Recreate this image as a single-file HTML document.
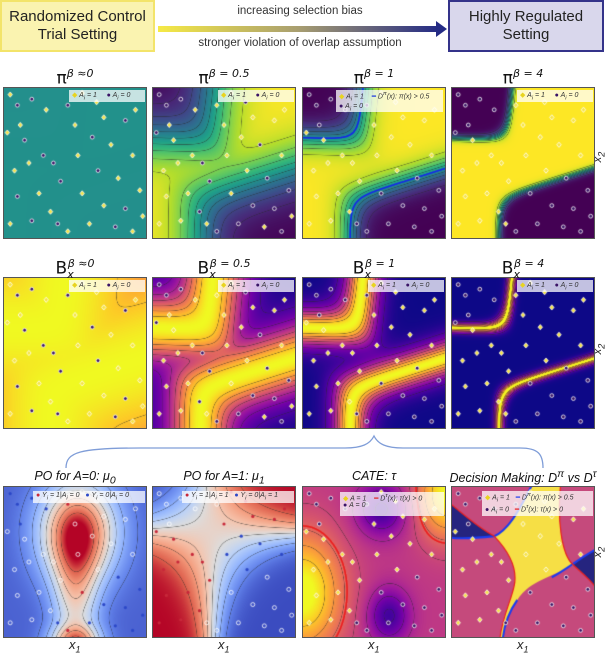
<!DOCTYPE html>
<html><head><meta charset="utf-8">
<style>
html,body{margin:0;padding:0;background:#fff;}
body{width:606px;height:652px;position:relative;overflow:hidden;font-family:"Liberation Sans","DejaVu Sans",sans-serif;}
.abs{position:absolute;}
.box{position:absolute;box-sizing:border-box;display:flex;align-items:center;justify-content:center;text-align:center;font-size:15px;line-height:18px;color:#222;}
.title{position:absolute;text-align:center;color:#111;white-space:nowrap;}
.t1{font-size:17px;font-family:"DejaVu Sans",sans-serif;}
.t1 sup{font-size:11px;font-style:italic;}
.t3{font-size:12.5px;font-style:italic;}
canvas{position:absolute;}
.legend{position:absolute;background:rgba(255,255,255,0.75);font-size:7px;color:#333;font-style:italic;padding:1px 3px;box-sizing:border-box;white-space:nowrap;}
.lab{position:absolute;font-style:italic;font-size:13px;color:#222;}
.panelborder{position:absolute;border:1px solid #555;box-sizing:border-box;pointer-events:none;}
</style></head>
<body>
<div class="box" style="left:0;top:0;width:155px;height:52px;background:#faf3b0;border:2px solid #f3e46a;">Randomized Control<br>Trial Setting</div>
<div class="box" style="left:448px;top:0;width:156px;height:52px;background:#d9d7ec;border:2px solid #34338a;">Highly Regulated<br>Setting</div>
<svg class="abs" style="left:155px;top:20px" width="295" height="18">
<defs><linearGradient id="ag" x1="0" x2="1"><stop offset="0" stop-color="#f6ea45"/><stop offset="0.5" stop-color="#a89e70"/><stop offset="1" stop-color="#242b85"/></linearGradient></defs>
<rect x="3" y="6" width="280" height="6" fill="url(#ag)"/><polygon points="281,1 292,9 281,17" fill="#242b85"/></svg>
<div class="abs" style="left:155px;width:290px;top:5px;text-align:center;font-size:11.5px;color:#333">increasing selection bias</div>
<div class="abs" style="left:155px;width:290px;top:37px;text-align:center;font-size:11.5px;color:#333">stronger violation of overlap assumption</div>

<svg class="abs" style="left:0;top:430px" width="606" height="40">
<path d="M66,38 C66,22 80,18 140,18 L345,18 C362,18 370,14 374,6 C378,14 386,18 403,18 L520,18 C538,18 543,24 543,38" fill="none" stroke="#7f9dd8" stroke-width="1.3"/></svg>

<div id="root"></div>

<div class="lab" style="left:594px;top:150px;transform:rotate(-90deg);font-size:11px">x<sub>2</sub></div>
<div class="lab" style="left:594px;top:342px;transform:rotate(-90deg);font-size:11px">x<sub>2</sub></div>
<div class="lab" style="left:594px;top:545px;transform:rotate(-90deg);font-size:11px">x<sub>2</sub></div>

<script>
// ---- data ----
const ptU=[0.05,0.1,0.12,0.03,0.2,0.3,0.45,0.55,0.7,0.85,0.92,0.62,0.75,0.9,0.28,0.18,0.08,0.35,0.52,0.66,0.8,0.95,0.1,0.25,0.4,0.55,0.7,0.85,0.97,0.05,0.2,0.33,0.38,0.45,0.6,0.78,0.9,0.5,0.15,0.65];
const ptV=[0.05,0.12,0.25,0.3,0.08,0.15,0.12,0.04,0.2,0.22,0.15,0.33,0.38,0.45,0.45,0.5,0.55,0.5,0.45,0.55,0.6,0.68,0.72,0.7,0.62,0.7,0.78,0.8,0.85,0.9,0.88,0.82,0.9,0.95,0.9,0.92,0.95,0.25,0.35,0.1];
const treatB0=[1,0,1,1,0,1,0,1,1,0,1,0,1,1,0,1,1,0,1,0,1,1,0,1,0,1,1,0,1,1,0,1,0,1,1,0,1,1,0,1];
const treatB05=[0,0,1,0,0,1,1,1,1,1,1,1,0,1,1,1,1,0,1,1,0,0,1,1,0,1,0,0,1,1,1,0,1,0,0,1,0,1,1,0];
const treatB1=[0,0,0,1,0,0,0,1,1,1,1,1,1,1,1,1,1,1,1,1,0,0,1,1,1,0,0,0,0,1,1,1,0,0,0,0,0,1,1,1];
const treatB4=[0,0,0,0,0,0,1,1,1,1,1,1,1,1,1,1,1,1,1,1,0,0,1,1,1,0,0,0,0,1,1,1,1,0,0,0,0,1,1,1];
const betas=[0.02,0.5,1,4];
const betaLabels=["≈0","= 0.5","= 1","= 4"];

// ---- colormaps ----
const VIR=[[68,1,84],[72,40,120],[62,74,137],[49,104,142],[38,130,142],[31,158,137],[53,183,121],[109,205,89],[180,222,44],[253,231,37]];
const PLA=[[13,8,135],[70,3,159],[114,1,168],[156,23,158],[189,55,134],[216,87,107],[237,121,83],[251,159,58],[253,202,38],[240,249,33]];
const CW=[[59,76,192],[98,130,234],[141,176,254],[184,208,249],[221,221,221],[245,196,173],[244,154,123],[222,96,77],[180,4,38]];
function cmap(s,t){t=Math.max(0,Math.min(1,t));const x=t*(s.length-1),i=Math.min(Math.floor(x),s.length-2),f=x-i;return [0,1,2].map(k=>s[i][k]*(1-f)+s[i+1][k]*f);}

// ---- fields ----
function smin(a,b,t){t=t||0.06;return -t*Math.log(Math.exp(-a/t)+Math.exp(-b/t));}
function smax(a,b,t){t=t||0.05;return t*Math.log(Math.exp(a/t)+Math.exp(b/t));}
function baseM(u,v){const p1=smin(0.42-u-0.1*v,0.33-v+0.03*u);const p2=smin(u-0.33,v-0.53-0.3*(1-u));return smax(p1,p2);}
function logit(u,v,b){return -b*20*baseM(u,v);}
function sig(x){return 1/(1+Math.exp(-x));}
function g(u,v,cu,cv,su,sv){return Math.exp(-((u-cu)*(u-cu)/su+(v-cv)*(v-cv)/sv));}
function mu0(u,v){return Math.min(1,0.05+0.85*g(u,v,0.52,0.3,0.07,0.1)+0.45*g(u,v,0.5,0.72,0.025,0.2)+0.6*g(u,v,0.5,1.03,0.03,0.012));}
function mu1(u,v){return 0.5+0.5*Math.tanh(-14*(u-0.4)*(v-0.38)-1.2*(u-0.4)+0.1);}
function cate(u,v){return 0.45+0.6*g(u,v,0,0.7,0.07,0.14)+0.55*g(u,v,1,0.05,0.04,0.08)-0.35*g(u,v,0.55,0.15,0.03,0.03)-0.35*g(u,v,0.6,0.85,0.02,0.03);}

// ---- layout ----
const colX=[3,152,302,451], W=144, H=152;
const rowY=[87,277,486];
const root=document.getElementById('root');

function drawField(ctx,fn,cm,nlev,line){
  const img=ctx.createImageData(W,H);
  const F=new Float32Array((W+1)*(H+1)), Lf=line?new Float32Array((W+1)*(H+1)):null;
  for(let y=0;y<=H;y++)for(let x=0;x<=W;x++){const u=x/W,v=y/H;F[y*(W+1)+x]=fn(u,v);if(line)Lf[y*(W+1)+x]=line.fn(u,v);}
  for(let y=0;y<H;y++)for(let x=0;x<W;x++){
    const i=y*(W+1)+x,f=F[i];let c=cmap(cm,f);
    if(nlev){const t=f*nlev,gx=(F[i+1]-f)*nlev,gy=(F[i+W+1]-f)*nlev,gm=Math.hypot(gx,gy)+1e-6;const r=Math.round(t);
      if(r>0&&r<nlev){const d=Math.abs(t-r)/gm;if(d<0.6){const a=0.55*(1-d/0.6);c=c.map(k=>k*(1-a)+40*a);}}}
    if(line){const l=Lf[i]-line.level,gx=Lf[i+1]-Lf[i],gy=Lf[i+W+1]-Lf[i],gm=Math.hypot(gx,gy)+1e-9,d=Math.abs(l)/gm;
      if(d<1.1){const a=Math.min(1,1.3-d/1.1);c=c.map((k,j)=>k*(1-a)+line.color[j]*a);}}
    const o=(y*W+x)*4;img.data[o]=c[0];img.data[o+1]=c[1];img.data[o+2]=c[2];img.data[o+3]=255;}
  ctx.putImageData(img,0,0);
}
function drawPts(ctx,treat,style){
  for(let i=0;i<ptU.length;i++){
    const x=ptU[i]*W,y=ptV[i]*H,a=treat[i];
    ctx.lineWidth=0.8;ctx.strokeStyle='#fff';
    if(style==='ab'){
      if(a){ctx.fillStyle='#f6e346';ctx.beginPath();ctx.moveTo(x,y-2.6);ctx.lineTo(x+2.2,y);ctx.lineTo(x,y+2.6);ctx.lineTo(x-2.2,y);ctx.closePath();ctx.fill();ctx.stroke();}
      else{ctx.fillStyle='#3a1466';ctx.beginPath();ctx.arc(x,y,1.9,0,7);ctx.fill();ctx.stroke();}
    } else {
      const want=style==='mu0'?0:1;const fn=style==='mu0'?mu0:mu1;
      if(a===want){ctx.fillStyle=fn(ptU[i],ptV[i])>0.5?'#c8283a':'#2c48c8';ctx.beginPath();ctx.arc(x,y,1.6,0,7);ctx.fill();}
      else{ctx.beginPath();ctx.arc(x,y,2,0,7);ctx.stroke();}
    }
  }
}
function makePanel(name,r,c){
  const cv=document.createElement('canvas');cv.width=W;cv.height=H;
  cv.style.left=colX[c]+'px';cv.style.top=rowY[r]+'px';
  
  
  root.appendChild(cv);
  const b=document.createElement('div');b.className='panelborder';b.style.left=colX[c]+'px';b.style.top=rowY[r]+'px';b.style.width=W+'px';b.style.height=H+'px';
  
  
  root.appendChild(b);
  return cv.getContext('2d');
}
function addTitle(html,r,c,cls,dy,name){
  const d=document.createElement('div');d.className='title '+cls;d.innerHTML=html;
  d.style.left=(colX[c]-20)+'px';d.style.width=(W+40)+'px';d.style.top=(rowY[r]-dy)+'px';
  
  
  root.appendChild(d);
}
function addLegend(html,r,c,lx,ly,w,h,name){
  const d=document.createElement('div');d.className='legend';d.innerHTML=html;
  d.style.left=(colX[c]+lx)+'px';d.style.top=(rowY[r]+ly)+'px';d.style.width=w+'px';d.style.height=h+'px';
  
  
  root.appendChild(d);
}
const treats=[treatB0,treatB05,treatB1,treatB4];
const Y='<span style="color:#e8d420;font-style:normal">◆</span>',P='<span style="color:#3a1466;font-style:normal">●</span>';
const leg1=Y+' A<sub>i</sub> = 1 &nbsp;&nbsp;&nbsp; '+P+' A<sub>i</sub> = 0';

for(let c=0;c<4;c++){
  const b=betas[c];
  let ctx=makePanel('propensity-panel-'+c,0,c);
  const pfn=(u,v)=>sig(logit(u,v,b));
  drawField(ctx, c===0?((u,v)=>0.5+0.6*b*(-baseM(u,v))):pfn, VIR, c===0?0:10, c===2?{fn:(u,v)=>logit(u,v,1),level:0,color:[20,40,230]}:null);
  drawPts(ctx,treats[c],'ab');
  addTitle('π<sup>β '+betaLabels[c]+'</sup>',0,c,'t1',20,'propensity-title-'+c);
  if(c===2) addLegend(Y+' A<sub>i</sub> = 1 &nbsp;&nbsp;&nbsp;<span style="color:#1430e0;font-style:normal">━</span> D<sup>π</sup>(x): π(x) &gt; 0.5<br>'+P+' A<sub>i</sub> = 0',0,c,34,3,107,22,'propensity-legend-'+c);
  else addLegend(leg1,0,c,66,3,76,12,'propensity-legend-'+c);
  ctx=makePanel('overlap-panel-'+c,1,c);
  const bb=c===0?0.1:b;
  drawField(ctx,(u,v)=>{const p=sig(logit(u,v,bb));return 4*p*(1-p);},PLA,8,null);
  drawPts(ctx,treats[c],'ab');
  addTitle('B<sub style="font-size:11px;font-style:italic">x</sub><sup style="margin-left:-6px">β '+betaLabels[c]+'</sup>',1,c,'t1',20,'overlap-title-'+c);
  addLegend(leg1,1,c,66,3,76,12,'overlap-legend-'+c);
}
let ctx=makePanel('po-a0-panel',2,0);drawField(ctx,mu0,CW,8,null);drawPts(ctx,treatB1,'mu0');
addTitle('PO for A=0: μ<sub>0</sub>',2,0,'t3',17,'po-a0-title');
addLegend('<span style="color:#c8283a;font-style:normal">●</span> Y<sub>i</sub> = 1|A<sub>i</sub> = 0 &nbsp; <span style="color:#2c48c8;font-style:normal">●</span> Y<sub>i</sub> = 0|A<sub>i</sub> = 0',2,0,30,5,112,12,'po-a0-legend');
ctx=makePanel('po-a1-panel',2,1);drawField(ctx,mu1,CW,8,null);drawPts(ctx,treatB1,'mu1');
addTitle('PO for A=1: μ<sub>1</sub>',2,1,'t3',17,'po-a1-title');
addLegend('<span style="color:#c8283a;font-style:normal">●</span> Y<sub>i</sub> = 1|A<sub>i</sub> = 1 &nbsp; <span style="color:#2c48c8;font-style:normal">●</span> Y<sub>i</sub> = 0|A<sub>i</sub> = 1',2,1,30,5,112,12,'po-a1-legend');
ctx=makePanel('cate-panel',2,2);drawField(ctx,cate,PLA,8,{fn:cate,level:0.6,color:[235,30,30]});drawPts(ctx,treatB1,'ab');
addTitle('CATE: τ',2,2,'t3',17,'cate-title');
addLegend(Y+' A = 1 &nbsp;&nbsp;&nbsp;<span style="color:#e01e1e;font-style:normal">━</span> D<sup>τ</sup>(x): τ(x) &gt; 0<br>'+P+' A = 0',2,2,38,6,104,24,'cate-legend');
ctx=makePanel('decision-panel',2,3);
ctx.fillStyle='#c54a7c';ctx.fillRect(0,0,W,H);
function P2(d,fill,stroke,lw){const p=new Path2D(d);ctx.save();ctx.scale(W,H);if(fill){ctx.fillStyle=fill;ctx.fill(p);}ctx.restore();
  if(stroke){ctx.save();ctx.scale(W,H);ctx.lineWidth=lw/W;ctx.strokeStyle=stroke;ctx.stroke(p);ctx.restore();}}
P2('M0,0.12 C0.1,0.2 0.2,0.28 0.3,0.33 C0.2,0.34 0.1,0.35 0,0.34 Z','#25247f');
P2('M0.3,0.33 C0.42,0.28 0.5,0.1 0.56,0 L0.76,0 C0.74,0.2 0.76,0.45 0.85,0.52 C0.7,0.6 0.55,0.62 0.46,0.75 C0.4,0.83 0.37,0.92 0.36,1 L0.34,1 C0.36,0.85 0.42,0.75 0.44,0.65 C0.46,0.55 0.42,0.45 0.3,0.33 Z','#f6df45');
P2('M0.85,0.52 C0.9,0.48 0.95,0.44 1,0.42 L1,0.66 C0.95,0.6 0.9,0.56 0.85,0.52 Z','#25247f');
P2('M0,0.34 C0.1,0.35 0.2,0.34 0.3,0.33 C0.42,0.28 0.5,0.1 0.56,0 M0.7,0.6 C0.8,0.55 0.9,0.47 1,0.42 M0.46,0.75 C0.4,0.83 0.37,0.92 0.36,1',null,'#1a3cf0',2);
P2('M0,0.12 C0.1,0.2 0.2,0.28 0.3,0.33 C0.42,0.45 0.46,0.55 0.44,0.65 C0.42,0.75 0.36,0.85 0.34,1 M0.76,0 C0.74,0.2 0.76,0.45 0.85,0.52 C0.92,0.58 0.97,0.62 1,0.66',null,'#e82020',1.2);
drawPts(ctx,treatB1,'ab');
addTitle('Decision Making: D<sup>π</sup> vs D<sup>τ</sup>',2,3,'t3',17,'decision-title');
addLegend(Y+' A<sub>i</sub> = 1 &nbsp;&nbsp;<span style="color:#1a3cf0;font-style:normal">━</span> D<sup>π</sup>(x): π(x) &gt; 0.5<br>'+P+' A<sub>i</sub> = 0 &nbsp;&nbsp;<span style="color:#e82020;font-style:normal">━</span> D<sup>τ</sup>(x): τ(x) &gt; 0',2,3,31,5,111,25,'decision-legend');
for(let c=0;c<4;c++){const d=document.createElement('div');d.className='lab';d.innerHTML='x<sub style="font-size:9px">1</sub>';
  d.style.left=(colX[c]+W/2-6)+'px';d.style.top='637px';
  
  
  root.appendChild(d);}
</script>
</body></html>
